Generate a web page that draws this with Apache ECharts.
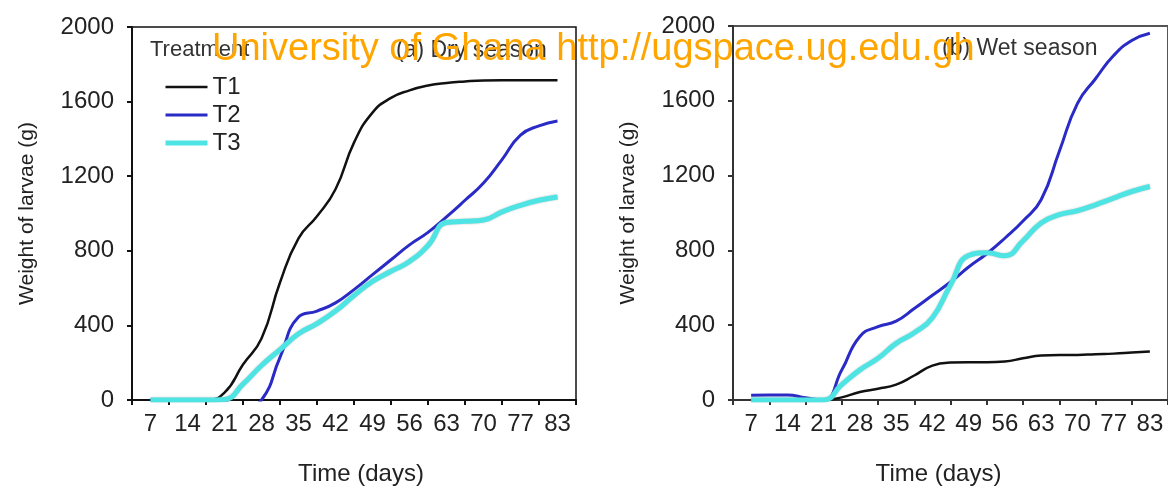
<!DOCTYPE html>
<html><head><meta charset="utf-8">
<script src="https://cdn.jsdelivr.net/npm/echarts@6/dist/echarts.min.js"></script>
<style>html,body{margin:0;padding:0;background:#fff}#c{width:1168px;height:491px}</style>
</head><body><div id="c"></div>
<script>
// Tick labels (sampling days)
const dayLabels = ['7','14','21','28','35','42','49','56','63','70','77','83'];
const yTicks = [0, 400, 800, 1200, 1600, 2000];
const seriesNames = ['T1', 'T2', 'T3'];

// Values read at each sampling day and midway between consecutive days (23 points)
// (a) Dry season
const dryT1 = [0,0,0,0,40,190,330,630,867,985,1130,1380,1541,1620,1660,1686,1700,1708,1713,1714,1714,1714,1714];
const dryT2 = [0,0,0,0,-10,-40,0,229,445,477,521,592,672,752,832,899,982,1071,1163,1289,1420,1470,1496];
const dryT3 = [0,0,0,0,3,85,185,270,355,410,477,560,636,690,743,828,952,958,965,1009,1044,1071,1089];
// (b) Wet season
const wetT1 = [0,0,0,0,0,14,43,60,82,131,184,200,202,202,206,223,238,241,241,245,248,254,260];
const wetT2 = [25,27,27,12,0,160,340,392,422,489,560,631,711,782,865,957,1071,1329,1585,1718,1842,1922,1961];
const wetT3 = [0,0,0,0,0,82,161,223,303,360,440,615,773,787,771,851,947,991,1012,1044,1080,1115,1142];

// Category positions: band boundaries interleaved with sampling days
const categories = ['|0'];
dayLabels.forEach((d, i) => { categories.push(d); categories.push('|' + (i + 1)); });
const pad = arr => [null].concat(arr, [null]);

const FONT = 'Liberation Sans';
const colors = { T1: '#111111', T2: '#2a2ac6', T3: '#4ee4e4' };
const widths = { T1: 2.5, T2: 3, T3: 5 };

function xAxis(gridIndex, lineColor, namePad) {
  return {
    type: 'category', gridIndex, data: categories, boundaryGap: false,
    axisLine: { onZero: false, lineStyle: { color: lineColor, width: 2 } },
    axisTick: { show: true, interval: (i) => i % 2 === 0, length: 5, lineStyle: { color: lineColor, width: 2 } },
    axisLabel: { interval: (i) => i % 2 === 1, color: '#222', fontSize: 24, fontFamily: FONT, margin: 12 },
    splitLine: { show: false },
    name: 'Time (days)', nameLocation: 'middle', nameGap: 62,
    nameTextStyle: { color: '#222', fontSize: 24, fontFamily: FONT, padding: namePad }
  };
}
function yAxis(gridIndex, lineColor) {
  return {
    type: 'value', gridIndex, min: yTicks[0], max: yTicks[yTicks.length - 1], interval: yTicks[1] - yTicks[0],
    axisLine: { show: true, lineStyle: { color: lineColor, width: 2 } },
    axisTick: { show: true, length: 5, lineStyle: { color: lineColor, width: 2 } },
    axisLabel: { color: '#222', fontSize: 24, fontFamily: FONT, margin: 18, formatter: (v) => String(v) },
    splitLine: { show: false },
    name: 'Weight of larvae (g)', nameLocation: 'middle', nameGap: 94, nameRotate: 90,
    nameTextStyle: { color: '#222', fontSize: 21, fontFamily: FONT }
  };
}
function line(name, data, idx) {
  const s = {
    name, type: 'line', xAxisIndex: idx, yAxisIndex: idx, data: pad(data),
    smooth: 0.5, symbol: 'none', showSymbol: false, connectNulls: false,
    lineStyle: { color: colors[name], width: widths[name] },
    itemStyle: { color: colors[name] }
  };
  if (name === 'T3') {
    s.lineStyle.shadowColor = 'rgba(120,140,140,0.55)';
    s.lineStyle.shadowBlur = 2;
  }
  return s;
}

const chart = echarts.init(document.getElementById('c'), null, { renderer: 'canvas' });
chart.setOption({
  animation: false,
  backgroundColor: '#fff',
  textStyle: { fontFamily: FONT },
  grid: [
    { left: 132, top: 27, width: 444, height: 376, show: true, borderColor: '#111', borderWidth: 1.5, backgroundColor: 'transparent' },
    { left: 733, top: 26, width: 439, height: 377, show: true, borderColor: '#555', borderWidth: 2, backgroundColor: 'transparent' }
  ],
  xAxis: [xAxis(0, '#111', [0, 0, 0, 14]), xAxis(1, '#333', [0, 24, 0, 0])],
  yAxis: [yAxis(0, '#111'), yAxis(1, '#333')],
  legend: {
    data: seriesNames.map(n => ({ name: n, lineStyle: { width: widths[n], color: colors[n] } })),
    orient: 'vertical', left: 163, top: 73, padding: 0,
    itemWidth: 42, itemHeight: 14, itemGap: 0,
    itemStyle: { opacity: 0 },
    textStyle: { color: '#222', fontSize: 24, lineHeight: 28, fontFamily: FONT },
    selectedMode: false
  },
  graphic: [
    { type: 'text', x: 150, y: 50, z: 50, style: { text: 'Treatment', fill: '#333', font: '22px "Liberation Sans"', align: 'left', verticalAlign: 'middle' } },
    { type: 'text', x: 396, y: 51, z: 50, style: { text: '(a) Dry season', fill: '#333', font: '23px "Liberation Sans"', align: 'left', verticalAlign: 'middle' } },
    { type: 'text', x: 942, y: 49, z: 50, style: { text: '(b) Wet season', fill: '#333', font: '23px "Liberation Sans"', align: 'left', verticalAlign: 'middle' } },
    { type: 'text', x: 212, y: 50, z: 100, style: { text: 'University of Ghana http://ugspace.ug.edu.gh', fill: '#FFA500', font: '38px "Liberation Sans"', align: 'left', verticalAlign: 'middle' } }
  ],
  series: [
    line('T1', dryT1, 0), line('T2', dryT2, 0), line('T3', dryT3, 0),
    line('T1', wetT1, 1), line('T2', wetT2, 1), line('T3', wetT3, 1)
  ]
});
</script>
</body></html>
